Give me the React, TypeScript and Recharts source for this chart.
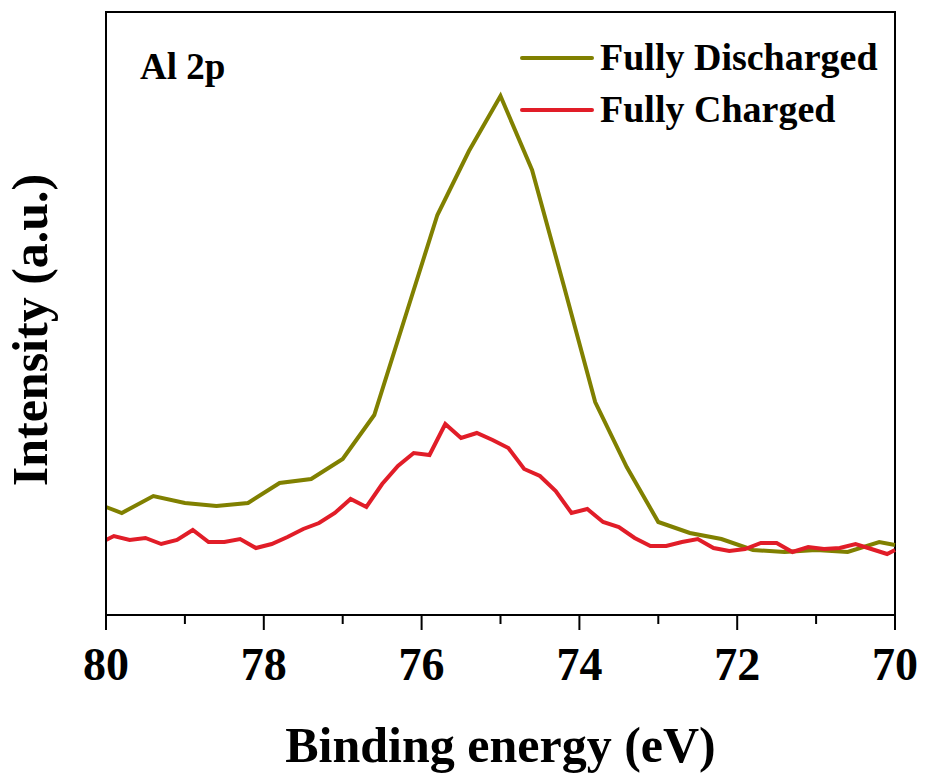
import { Legend, Line, LineChart, ReferenceArea, XAxis, YAxis } from "recharts";

const dischargedEnergy = [80.0, 79.8, 79.4, 79.0, 78.6, 78.2, 77.8, 77.4, 77.0, 76.6, 76.2, 75.8, 75.4, 75.0, 74.6, 74.2, 73.8, 73.4, 73.0, 72.6, 72.2, 71.8, 71.4, 71.0, 70.6, 70.2, 70.0];
const dischargedIntensity = [108, 102, 119, 112, 109, 112, 132, 136, 156, 200, 300, 400, 464, 519, 445, 330, 213, 148, 93, 82, 76, 65, 63, 65, 63, 73, 70];

const chargedEnergy = [
  80.0, 79.9, 79.7, 79.5, 79.3, 79.1, 78.9, 78.7, 78.5, 78.3, 78.1, 77.9, 77.7, 77.5, 77.3, 77.1, 76.9, 76.7, 76.5, 76.3,
  76.1, 75.9, 75.7, 75.5, 75.3, 75.1, 74.9, 74.7, 74.5, 74.3, 74.1, 73.9, 73.7, 73.5, 73.3, 73.1, 72.9, 72.7, 72.5, 72.3,
  72.1, 71.9, 71.7, 71.5, 71.3, 71.1, 70.9, 70.7, 70.5, 70.3, 70.1, 70.0
];
const chargedIntensity = [
  75, 79, 75, 77, 71, 75, 85, 73, 73, 76, 67, 71, 78, 86, 92, 102, 116, 108, 131, 149,
  162, 160, 191, 177, 182, 175, 167, 146, 139, 124, 102, 106, 93, 88, 77, 69, 69, 73, 76, 67,
  64, 66, 72, 72, 63, 68, 66, 67, 71, 66, 61, 65
];

const energyTicks = [80, 79, 78, 77, 76, 75, 74, 73, 72, 71, 70];

const FONT = "'Liberation Serif', 'Times New Roman', serif";
const OLIVE = "#808000";
const RED = "#e11d28";

const dischargedData = dischargedEnergy.map((x, i) => ({ x, y: dischargedIntensity[i] }));
const chargedData = chargedEnergy.map((x, i) => ({ x, y: chargedIntensity[i] }));

const legendItems = [
  { name: "Fully Discharged", color: OLIVE },
  { name: "Fully Charged", color: RED }
];

function EnergyTick({ x, y, payload }: { x: number; y: number; payload: { value: number } }) {
  const major = payload.value % 2 === 0;
  return (
    <g>
      <line x1={x} y1={y} x2={x} y2={y + (major ? 15 : 9)} stroke="#000" strokeWidth={2} />
      {major && (
        <text x={x} y={y + 65} textAnchor="middle" fontFamily={FONT} fontWeight="bold" fontSize={46} fill="#000">
          {payload.value}
        </text>
      )}
    </g>
  );
}

function renderLegend() {
  return (
    <svg width={400} height={110}>
      {legendItems.map((item, i) => (
        <g key={item.name}>
          <line x1={12} y1={28 + i * 52} x2={82} y2={28 + i * 52} stroke={item.color} strokeWidth={4} strokeLinecap="round" />
          <text x={90} y={40 + i * 52} fontFamily={FONT} fontWeight="bold" fontSize={38} fill="#000">
            {item.name}
          </text>
        </g>
      ))}
    </svg>
  );
}

export default function App() {
  return (
    <div style={{ position: "absolute", left: 0, top: 0, width: 925, height: 776, background: "#fff" }}>
      <LineChart width={925} height={776} margin={{ top: 12, right: 30, bottom: 0, left: 0 }}>
        <XAxis
          dataKey="x"
          type="number"
          domain={[70, 80]}
          reversed
          ticks={energyTicks}
          interval={0}
          height={161}
          tickSize={0}
          tickMargin={0}
          tickLine={false}
          axisLine={{ stroke: "#000", strokeWidth: 2 }}
          tick={EnergyTick as any}
          label={{
            value: "Binding energy (eV)",
            position: "insideBottom",
            offset: 14,
            style: { fontFamily: FONT, fontWeight: "bold", fontSize: 50, fill: "#000" }
          }}
        />
        <XAxis
          xAxisId="top"
          orientation="top"
          type="number"
          domain={[70, 80]}
          reversed
          height={0}
          tick={false}
          tickLine={false}
          axisLine={{ stroke: "#000", strokeWidth: 2 }}
        />
        <YAxis
          type="number"
          domain={[0, 603]}
          width={106}
          tick={false}
          tickLine={false}
          axisLine={{ stroke: "#000", strokeWidth: 2 }}
          label={{
            content: () => (
              <text
                x={47}
                y={330}
                transform="rotate(-90, 47, 330)"
                textAnchor="middle"
                fontFamily={FONT}
                fontWeight="bold"
                fontSize={50}
                fill="#000"
              >
                Intensity (a.u.)
              </text>
            )
          }}
        />
        <YAxis
          yAxisId="right"
          orientation="right"
          type="number"
          domain={[0, 603]}
          width={0}
          tick={false}
          tickLine={false}
          axisLine={{ stroke: "#000", strokeWidth: 2 }}
        />
        <ReferenceArea
          x1={80}
          x2={70}
          y1={0}
          y2={603}
          fill="none"
          stroke="#000"
          strokeWidth={2}
          label={{
            content: (p: any) => (
              <text x={p.viewBox.x + 34} y={p.viewBox.y + 67} fontFamily={FONT} fontWeight="bold" fontSize={37} fill="#000">
                Al 2p
              </text>
            )
          }}
        />
        <Legend
          layout="vertical"
          align="center"
          verticalAlign="middle"
          content={renderLegend}
          wrapperStyle={{ position: "absolute", left: 510, top: 30, width: 400, height: 110 }}
        />
        <Line
          data={dischargedData}
          dataKey="y"
          name="Fully Discharged"
          type="linear"
          stroke={OLIVE}
          strokeWidth={4}
          dot={false}
          isAnimationActive={false}
        />
        <Line
          data={chargedData}
          dataKey="y"
          name="Fully Charged"
          type="linear"
          stroke={RED}
          strokeWidth={4}
          dot={false}
          isAnimationActive={false}
        />
      </LineChart>
    </div>
  );
}
